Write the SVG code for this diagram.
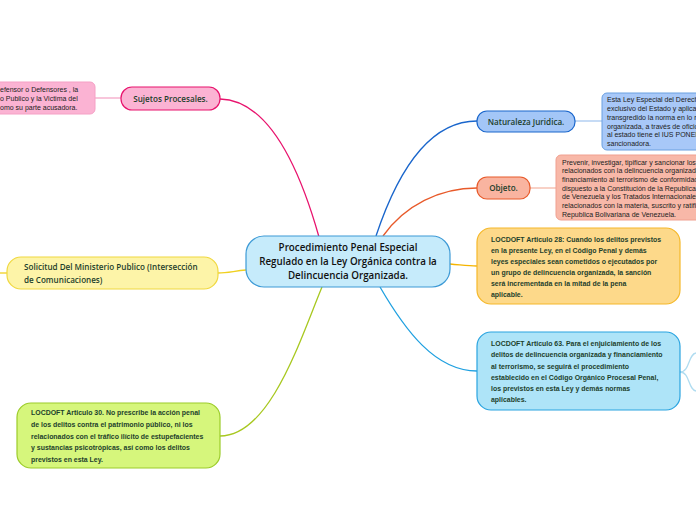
<svg xmlns="http://www.w3.org/2000/svg" width="696" height="520" viewBox="0 0 696 520">
<style>
.lbl{font-family:"Open Sans","Liberation Sans",sans-serif;font-size:8.1px;fill:#1d3f2c;font-weight:600}
.ctr{font-family:"Open Sans","Liberation Sans",sans-serif;font-size:9.8px;fill:#111;font-weight:600;text-anchor:middle}
.sm{font-family:"Liberation Sans",Arial,sans-serif;font-size:7px;fill:#222}
.bd{font-family:"Liberation Sans",Arial,sans-serif;font-size:6.95px;fill:#1d3f2c;font-weight:bold}
.ln{fill:none;stroke-width:1.3}
</style>
<rect width="696" height="520" fill="#ffffff"/>
<g id="connectors">
<path class="ln" d="M220,99 C270,100 300,170 319,237" stroke="#e8136d"/>
<path class="ln" d="M95,98 L121,98" stroke="#f5a8c8" stroke-width="1"/>
<path class="ln" d="M376,236 C398,170 430,121 477,121" stroke="#1a66cc"/>
<path class="ln" d="M575,121 L602,121" stroke="#a8c8f0"/>
<path class="ln" d="M383,236 C405,205 440,188 477,188" stroke="#e85a2a"/>
<path class="ln" d="M530,188 L556,188" stroke="#f5b8a8"/>
<path class="ln" d="M450,264 C462,265 468,266 477,266" stroke="#f5b400"/>
<path class="ln" d="M380,287 C405,330 435,371 477,371" stroke="#1fa0e0"/>
<path class="ln" d="M680,372 C690,372 688,354 696,353" stroke="#b0dcf0" stroke-width="1"/>
<path class="ln" d="M680,372 C690,372 688,390 696,391" stroke="#b0dcf0" stroke-width="1"/>
<path class="ln" d="M246,270 C234,271 228,273 218,273" stroke="#f0d020"/>
<path class="ln" d="M7,273 L0,273" stroke="#f0d020"/>
<path class="ln" d="M322,287 C300,340 270,436 220,436" stroke="#a8c820"/>
</g>
<g id="center">
<rect x="246" y="236" width="204" height="51" rx="18" fill="#c6ebfb" stroke="#3d9ad6" stroke-width="1.2"/>
<text class="ctr" x="348" y="251">Procedimiento Penal Especial</text>
<text class="ctr" x="348" y="265">Regulado en la Ley Orgánica contra la</text>
<text class="ctr" x="348" y="279">Delincuencia Organizada.</text>
</g>
<g id="sujetos">
<rect x="121" y="87" width="99" height="23" rx="11" fill="#fbb3d3" stroke="#e8136d" stroke-width="1.2"/>
<text class="lbl" x="170.5" y="102" text-anchor="middle">Sujetos Procesales.</text>
</g>
<g id="sujetos-detalle">
<rect x="-12" y="82" width="107" height="32" rx="5" fill="#fbb3d3" stroke="#f5a0c5" stroke-width="1"/>
<text class="sm" x="0" y="92">efensor o Defensores , la</text>
<text class="sm" x="0" y="101">o Publico y la Victima del</text>
<text class="sm" x="0" y="110">omo su parte acusadora.</text>
</g>
<g id="naturaleza">
<rect x="477" y="111" width="98" height="21" rx="10" fill="#a3c6f7" stroke="#1a66cc" stroke-width="1.2"/>
<text class="lbl" x="526" y="125" text-anchor="middle">Naturaleza Juridica.</text>
</g>
<g id="naturaleza-detalle">
<rect x="602" y="93" width="110" height="57" rx="5" fill="#a8c8f8" stroke="#6aa0e0" stroke-width="1"/>
<text class="sm" x="607" y="102">Esta Ley Especial del Derech</text>
<text class="sm" x="607" y="111">exclusivo del Estado y aplica</text>
<text class="sm" x="607" y="120">transgredido la norma en lo r</text>
<text class="sm" x="607" y="129">organizada, a través de oficio</text>
<text class="sm" x="607" y="137">al estado tiene el IUS PONEN</text>
<text class="sm" x="607" y="146">sancionadora.</text>
</g>
<g id="objeto">
<rect x="477" y="177" width="53" height="22" rx="10" fill="#f9b4a0" stroke="#e85a2a" stroke-width="1.2"/>
<text class="lbl" x="503.5" y="191" text-anchor="middle">Objeto.</text>
</g>
<g id="objeto-detalle">
<rect x="556" y="155" width="156" height="65" rx="5" fill="#f8b8a8" stroke="#f0a090" stroke-width="1"/>
<text class="sm" x="562" y="165">Prevenir, investigar, tipificar y sancionar los</text>
<text class="sm" x="562" y="173">relacionados con la delincuencia organizada</text>
<text class="sm" x="562" y="182">financiamiento al terrorismo de conformidad</text>
<text class="sm" x="562" y="191">dispuesto a la Constitución de la Republica</text>
<text class="sm" x="562" y="199">de Venezuela y los Tratados Internacionales</text>
<text class="sm" x="562" y="208">relacionados con la materia, suscrito y ratifi</text>
<text class="sm" x="562" y="217">Republica Bolivariana de Venezuela.</text>
</g>
<g id="articulo28">
<rect x="477" y="228" width="203" height="76" rx="14" fill="#fdd98a" stroke="#f5b82a" stroke-width="1.2"/>
<text class="bd" x="491" y="242">LOCDOFT Articulo 28: Cuando los delitos previstos</text>
<text class="bd" x="491" y="253">en la presente Ley, en el Código Penal y demás</text>
<text class="bd" x="491" y="264">leyes especiales sean cometidos o ejecutados por</text>
<text class="bd" x="491" y="275">un grupo de delincuencia organizada, la sanción</text>
<text class="bd" x="491" y="286">será incrementada en la mitad de la pena</text>
<text class="bd" x="491" y="297">aplicable.</text>
</g>
<g id="articulo63">
<rect x="477" y="332" width="203" height="78" rx="14" fill="#aee4f8" stroke="#2aa4e0" stroke-width="1.2"/>
<text class="bd" x="491" y="346">LOCDOFT Articulo 63. Para el enjuiciamiento de los</text>
<text class="bd" x="491" y="357">delitos de delincuencia organizada y financiamiento</text>
<text class="bd" x="491" y="369">al terrorismo, se seguirá el procedimiento</text>
<text class="bd" x="491" y="380">establecido en el Código Orgánico Procesal Penal,</text>
<text class="bd" x="491" y="391">los previstos en esta Ley y demás normas</text>
<text class="bd" x="491" y="402">aplicables.</text>
</g>
<g id="solicitud">
<rect x="7" y="257" width="211" height="32" rx="14" fill="#fdf4a8" stroke="#f0d840" stroke-width="1.2"/>
<text class="lbl" x="24" y="270">Solicitud Del Ministerio Publico (Intersección</text>
<text class="lbl" x="24" y="283">de Comunicaciones)</text>
</g>
<g id="articulo30">
<rect x="17" y="403" width="203" height="65" rx="14" fill="#d6f67c" stroke="#9ccc2a" stroke-width="1.2"/>
<text class="bd" x="31" y="415">LOCDOFT Articulo 30. No prescribe la acción penal</text>
<text class="bd" x="31" y="427">de los delitos contra el patrimonio público, ni los</text>
<text class="bd" x="31" y="439">relacionados con el tráfico ilícito de estupefacientes</text>
<text class="bd" x="31" y="450">y sustancias psicotrópicas, así como los delitos</text>
<text class="bd" x="31" y="462">previstos en esta Ley.</text>
</g>
</svg>
